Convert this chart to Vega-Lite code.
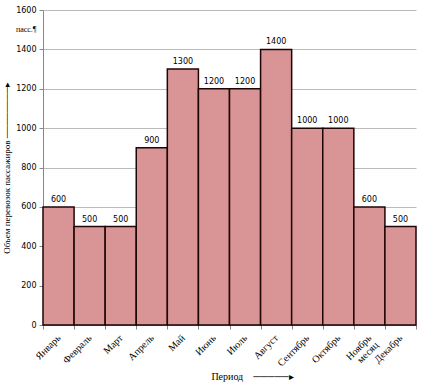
{
  "$schema": "https://vega.github.io/schema/vega-lite/v6.json",
  "width": 373,
  "height": 315,
  "autosize": {"type": "none"},
  "padding": {"left": 43, "top": 10, "right": 5, "bottom": 61},
  "background": "white",
  "data": {
    "values": [
      {"month": "Январь", "value": 600},
      {"month": "Февраль", "value": 500},
      {"month": "Март", "value": 500},
      {"month": "Апрель", "value": 900},
      {"month": "Май", "value": 1300},
      {"month": "Июнь", "value": 1200},
      {"month": "Июль", "value": 1200},
      {"month": "Август", "value": 1400},
      {"month": "Сентябрь", "value": 1000},
      {"month": "Октябрь", "value": 1000},
      {"month": "Ноябрь", "value": 600},
      {"month": "Декабрь", "value": 500}
    ]
  },
  "config": {
    "view": {"stroke": null},
    "axis": {"domainColor": "#888", "tickColor": "#888", "gridColor": "#bbbbbb"}
  },
  "encoding": {
    "x": {
      "field": "month",
      "type": "ordinal",
      "sort": null,
      "scale": {"paddingInner": 0, "paddingOuter": 0},
      "axis": {
        "tickBand": "extent",
        "labelAngle": -45,
        "labelAlign": "right",
        "labelBaseline": "middle",
        "labelFont": "Liberation Serif",
        "labelFontSize": 10,
        "labelColor": "#000",
        "labelPadding": 7,
        "labelExpr": "datum.value == 'Ноябрь' ? ['Ноябрь', 'месяц'] : datum.value",
        "labelLineHeight": 10,
        "tickSize": 4,
        "title": "Период\u00a0\u00a0\u00a0\u00a0─────▸",
        "titleFont": "Liberation Serif",
        "titleFontSize": 10,
        "titleFontWeight": "normal",
        "titleColor": "#000",
        "titleX": 209,
        "titleY": 46,
        "titleAlign": "center"
      }
    },
    "y": {
      "field": "value",
      "type": "quantitative",
      "scale": {"domain": [0, 1600]},
      "axis": {
        "values": [0, 200, 400, 600, 800, 1000, 1200, 1400, 1500, 1600],
        "labelExpr": "datum.value == 1500 ? 'пасс.¶' : datum.value",
        "labelFont": {"condition": {"test": "datum.value == 1500", "value": "Liberation Serif"}, "value": "DejaVu Sans"},
        "labelFontSize": 8,
        "labelColor": "#000",
        "gridOpacity": {"condition": {"test": "datum.value == 1500", "value": 0}, "value": 1},
        "tickOpacity": {"condition": {"test": "datum.value == 1500", "value": 0}, "value": 1},
        "tickSize": 4,
        "labelPadding": 3,
        "title": "Объем перевозок пассажиров\u00a0────────▸",
        "titleFont": "Liberation Serif",
        "titleFontSize": 9,
        "titleFontWeight": "normal",
        "titleColor": "#000",
        "titlePadding": 4
      }
    }
  },
  "layer": [
    {
      "mark": {"type": "bar", "fill": "#d99596", "stroke": "#1f0505", "strokeWidth": 1.5}
    },
    {
      "mark": {"type": "text", "dy": -7, "font": "DejaVu Sans", "fontSize": 8, "color": "#000"},
      "encoding": {"text": {"field": "value"}}
    }
  ]
}
